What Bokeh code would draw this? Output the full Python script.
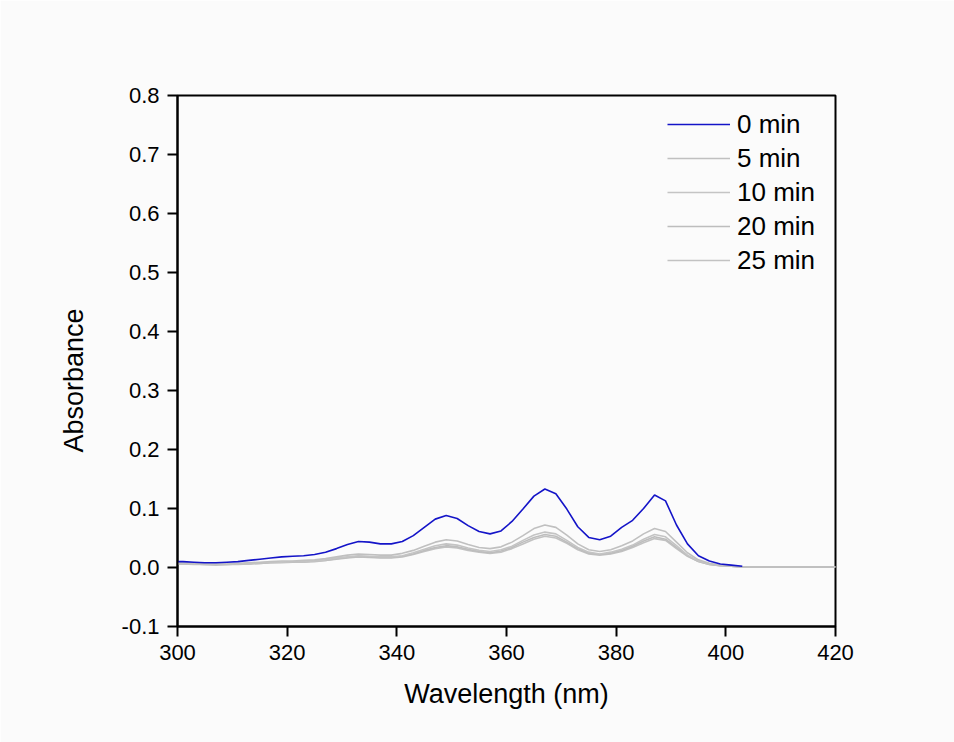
from bokeh.plotting import figure
from bokeh.models import Range1d, FixedTicker, PrintfTickFormatter, Legend, LegendItem, Title
from bokeh.embed import file_html
from bokeh.resources import INLINE

# wavelength grid (nm)
wavelength = [300] + list(range(301, 420, 2)) + [420]

abs_0min = [0.010, 0.010, 0.009, 0.008, 0.008, 0.009, 0.010, 0.012, 0.014, 0.016,
            0.018, 0.019, 0.020, 0.022, 0.026, 0.032, 0.039, 0.044, 0.043, 0.040,
            0.040, 0.044, 0.054, 0.068, 0.082, 0.088, 0.083, 0.071, 0.061, 0.057,
            0.062, 0.078, 0.099, 0.121, 0.133, 0.125, 0.099, 0.069, 0.051, 0.047,
            0.053, 0.068, 0.080, 0.100, 0.123, 0.113, 0.072, 0.040, 0.020, 0.011,
            0.006, 0.004, 0.002]

abs_5min = [0.008, 0.008, 0.007, 0.006, 0.006, 0.006, 0.007, 0.008, 0.009, 0.010,
            0.011, 0.011, 0.012, 0.013, 0.015, 0.018, 0.021, 0.023, 0.022, 0.021,
            0.021, 0.024, 0.029, 0.036, 0.043, 0.047, 0.045, 0.039, 0.034, 0.032,
            0.035, 0.043, 0.054, 0.066, 0.072, 0.068, 0.055, 0.040, 0.030, 0.027,
            0.030, 0.037, 0.045, 0.057, 0.066, 0.061, 0.043, 0.025, 0.013, 0.007,
            0.004, 0.002, 0.001, 0.001, 0.001, 0.001, 0.001, 0.001, 0.001, 0.001,
            0.001, 0.001]

abs_10min = [0.007, 0.007, 0.006, 0.005, 0.005, 0.005, 0.006, 0.007, 0.008, 0.009,
             0.009, 0.010, 0.010, 0.011, 0.013, 0.016, 0.018, 0.020, 0.019, 0.018,
             0.018, 0.020, 0.025, 0.031, 0.037, 0.040, 0.038, 0.033, 0.029, 0.027,
             0.030, 0.036, 0.046, 0.055, 0.060, 0.057, 0.046, 0.034, 0.026, 0.023,
             0.026, 0.031, 0.038, 0.048, 0.056, 0.052, 0.037, 0.021, 0.011, 0.006,
             0.003, 0.002, 0.001, 0.001, 0.001, 0.001, 0.001, 0.001, 0.001, 0.001,
             0.001, 0.001]

abs_20min = [0.006, 0.006, 0.006, 0.005, 0.005, 0.005, 0.006, 0.006, 0.007, 0.008,
             0.009, 0.009, 0.010, 0.011, 0.012, 0.015, 0.017, 0.019, 0.018, 0.017,
             0.017, 0.019, 0.023, 0.029, 0.034, 0.037, 0.035, 0.031, 0.027, 0.025,
             0.028, 0.034, 0.043, 0.051, 0.056, 0.053, 0.043, 0.032, 0.024, 0.022,
             0.024, 0.029, 0.036, 0.045, 0.052, 0.048, 0.034, 0.020, 0.010, 0.005,
             0.003, 0.002, 0.001, 0.001, 0.001, 0.001, 0.001, 0.001, 0.001, 0.001,
             0.001, 0.001]

abs_25min = [0.006, 0.006, 0.005, 0.005, 0.004, 0.005, 0.005, 0.006, 0.007, 0.008,
             0.008, 0.009, 0.009, 0.010, 0.012, 0.014, 0.016, 0.018, 0.017, 0.016,
             0.016, 0.018, 0.022, 0.027, 0.032, 0.035, 0.033, 0.029, 0.026, 0.024,
             0.026, 0.032, 0.040, 0.048, 0.053, 0.050, 0.041, 0.030, 0.023, 0.021,
             0.023, 0.027, 0.034, 0.042, 0.049, 0.046, 0.032, 0.019, 0.010, 0.005,
             0.003, 0.002, 0.001, 0.001, 0.001, 0.001, 0.001, 0.001, 0.001, 0.001,
             0.001, 0.001]

series_labels = ["0 min", "5 min", "10 min", "20 min", "25 min"]
series_values = [abs_0min, abs_5min, abs_10min, abs_20min, abs_25min]
series_colors = ["#1414c8", "#c0c0c0", "#c4c4c4", "#bdbdbd", "#c2c2c2"]

x_ticks = [300, 320, 340, 360, 380, 400, 420]
y_ticks = [-0.1, 0.0, 0.1, 0.2, 0.3, 0.4, 0.5, 0.6, 0.7, 0.8]

x_title = "Wavelength (nm)"
y_title = "Absorbance"

FONT = "Liberation Sans"
BG = "#fbfbfb"

p = figure(width=954, height=742, output_backend="svg", toolbar_location=None,
           x_range=Range1d(300, 420), y_range=Range1d(-0.1, 0.8),
           min_border_left=177, min_border_right=119, min_border_top=95,
           min_border_bottom=116)
p.background_fill_color = BG
p.border_fill_color = BG
p.outline_line_color = "black"
p.outline_line_width = 2
p.xgrid.visible = False
p.ygrid.visible = False

renderers = []
# draw greys first, blue on top
for lab, vals, col in list(zip(series_labels, series_values, series_colors))[::-1]:
    r = p.line(wavelength[:len(vals)], vals, line_color=col, line_width=1.6)
    renderers.append((lab, r))
renderers = renderers[::-1]

for ax in (p.xaxis[0], p.yaxis[0]):
    ax.axis_line_width = 2
    ax.major_tick_line_width = 2
    ax.major_tick_out = 10
    ax.major_tick_in = 0
    ax.minor_tick_out = 0
    ax.minor_tick_in = 0
    ax.major_label_text_font = FONT
    ax.major_label_text_font_size = "22px"
    ax.major_label_text_color = "black"
    ax.axis_label_text_font = FONT
    ax.axis_label_text_font_size = "27px"
    ax.axis_label_text_font_style = "normal"
    ax.axis_label_text_color = "black"
    ax.major_label_standoff = 8

p.xaxis.ticker = FixedTicker(ticks=x_ticks)
p.yaxis.ticker = FixedTicker(ticks=y_ticks)
p.xaxis.formatter = PrintfTickFormatter(format="%d")
p.yaxis.formatter = PrintfTickFormatter(format="%.1f")
p.xaxis.axis_label = x_title
p.xaxis.axis_label_standoff = 16

# y title as a side title (it sits slightly below the frame centre in the reference)
ytitle = Title(text=y_title, align="left", offset=174, standoff=60,
               text_font=FONT, text_font_size="27px", text_font_style="normal",
               text_color="black")
p.add_layout(ytitle, "left")

legend = Legend(items=[LegendItem(label=lab, renderers=[r]) for lab, r in renderers],
                location=(490, 349), orientation="vertical")
legend.background_fill_alpha = 0
legend.border_line_alpha = 0
legend.padding = 0
legend.margin = 0
legend.spacing = 0
legend.glyph_width = 63
legend.glyph_height = 34
legend.label_height = 34
legend.label_standoff = 7
legend.label_text_font = FONT
legend.label_text_font_size = "26px"
legend.label_text_color = "black"
p.add_layout(legend)

open("out.html", "w").write(file_html(p, INLINE))
